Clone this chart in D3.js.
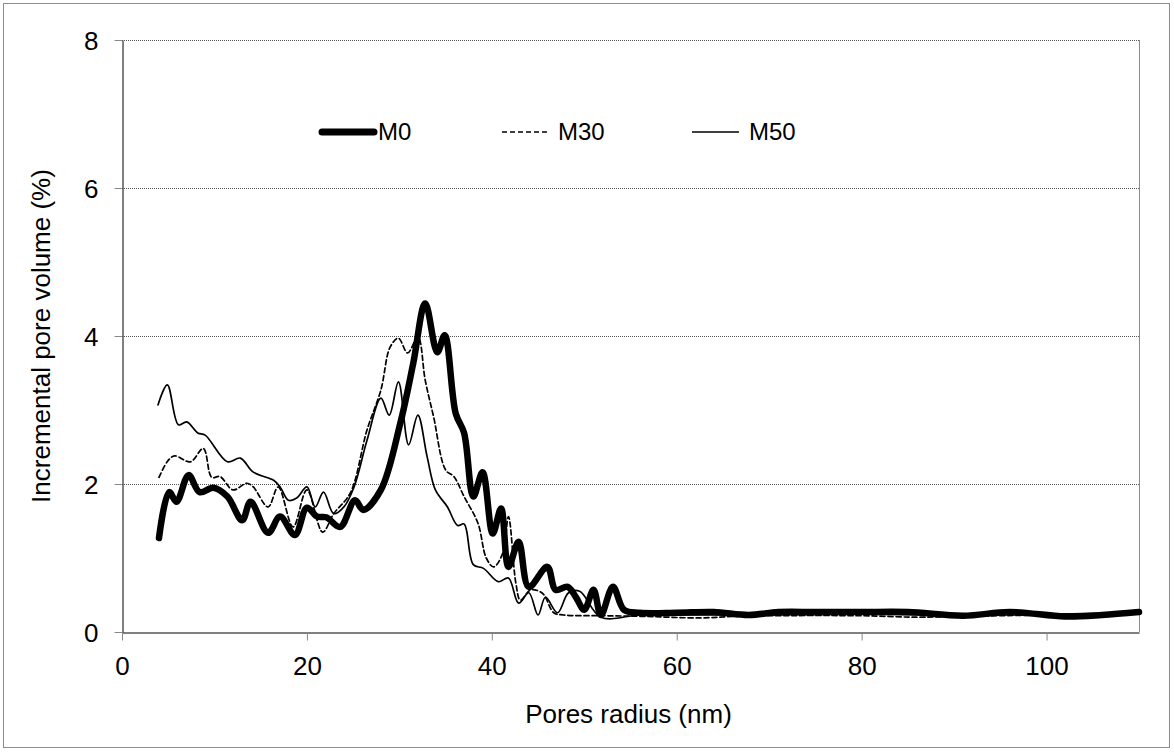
<!DOCTYPE html>
<html>
<head>
<meta charset="utf-8">
<script src="https://cdn.jsdelivr.net/npm/d3@7"></script>
<style>
  body { margin: 0; background: #fff; }
  svg { display: block; font-family: "Liberation Sans", Arial, sans-serif; }
</style>
</head>
<body>
<div id="chart"></div>
<script>
// pore radius (nm) and incremental pore volume (%) for each mix
var m0Radius = [4, 5.1, 5.9, 7.2, 8.4, 9.9, 11.4, 13, 13.9, 15.8, 17.1, 18.7, 20, 21.1, 22.1, 23.6, 25.2, 26.1, 28, 30.1, 31.5, 32.8, 34.1, 34.9, 36.1, 37, 38, 39, 40.1, 41, 41.8, 42.9, 44, 46, 46.9, 48.2, 49.1, 50, 51, 51.8, 53.1, 54.3, 56, 60, 64, 67.8, 71, 75, 80, 85, 91, 96, 102, 106, 110];
var m0Volume = [1.27, 1.89, 1.76, 2.12, 1.89, 1.95, 1.83, 1.51, 1.76, 1.34, 1.56, 1.31, 1.68, 1.56, 1.55, 1.42, 1.78, 1.65, 1.92, 2.82, 3.63, 4.44, 3.78, 4.01, 2.95, 2.69, 1.83, 2.16, 1.33, 1.67, 0.88, 1.22, 0.61, 0.88, 0.57, 0.61, 0.47, 0.3, 0.57, 0.23, 0.61, 0.3, 0.26, 0.26, 0.27, 0.23, 0.27, 0.27, 0.27, 0.27, 0.22, 0.27, 0.21, 0.23, 0.27];

var m30Radius = [4, 5, 5.7, 7.4, 8.8, 9.7, 10.6, 12, 13.5, 14.2, 15.8, 16.9, 18.5, 20, 21.7, 22.9, 24.7, 26.5, 28, 29, 29.9, 30.9, 32, 32.8, 33.7, 35, 35.9, 37, 38.5, 39.4, 40.2, 41.2, 41.8, 42.6, 43.1, 44.2, 45.5, 46.7, 47.8, 52, 56.7, 62.6, 66, 70, 80, 86, 90, 100, 110];
var m30Volume = [2.09, 2.32, 2.38, 2.3, 2.48, 2.09, 2.1, 1.92, 2.01, 1.96, 1.69, 1.96, 1.42, 1.92, 1.35, 1.6, 1.88, 2.73, 3.27, 3.85, 3.97, 3.77, 3.99, 3.4, 2.91, 2.19, 2.1, 1.83, 1.47, 1.0, 0.88, 1.07, 1.56, 0.66, 0.43, 0.57, 0.52, 0.26, 0.23, 0.22, 0.21, 0.19, 0.21, 0.22, 0.22, 0.2, 0.21, 0.23, 0.25];

var m50Radius = [3.9, 4.9, 6.1, 7, 8.2, 9, 11.4, 12.8, 14.2, 16.4, 17.1, 18, 18.9, 20, 20.9, 21.8, 22.9, 24, 25.1, 26.5, 28, 28.9, 29.9, 31, 32, 33, 33.9, 35.2, 36.3, 37, 38, 39.1, 40.7, 41.8, 42.9, 44, 45, 45.8, 47.1, 48.3, 49.5, 51.8, 56, 62, 70, 80, 90, 100, 110];
var m50Volume = [3.07, 3.34, 2.8, 2.84, 2.69, 2.66, 2.3, 2.35, 2.16, 2.05, 1.96, 1.78, 1.81, 1.96, 1.69, 1.89, 1.6, 1.69, 1.96, 2.59, 3.16, 2.93, 3.38, 2.53, 2.93, 2.37, 1.92, 1.69, 1.44, 1.46, 0.91, 0.86, 0.68, 0.73, 0.39, 0.53, 0.23, 0.47, 0.26, 0.53, 0.55, 0.2, 0.23, 0.23, 0.23, 0.24, 0.23, 0.24, 0.26];

var seriesNames = ["M0", "M30", "M50"];
var xTicks = [0, 20, 40, 60, 80, 100];
var yTicks = [0, 2, 4, 6, 8];

var width = 1174, height = 754;
var margin = { top: 40, right: 35, bottom: 122, left: 122 };

var svg = d3.select("#chart").append("svg")
	.attr("width", width)
	.attr("height", height);

// outer frame
svg.append("rect")
	.attr("x", 3.5).attr("y", 3.5)
	.attr("width", 1166).attr("height", 744)
	.attr("fill", "#fff")
	.attr("stroke", "#8c8c8c");

var x = d3.scaleLinear().domain([0, 110]).range([margin.left, width - margin.right]);
var y = d3.scaleLinear().domain([0, 8]).range([height - margin.bottom, margin.top]);

//gridlines
svg.append("g").selectAll("line")
	.data(yTicks.filter(function (d) { return d > 0; }))
	.enter().append("line")
	.attr("x1", x(0)).attr("x2", x(110))
	.attr("y1", function (d) { return y(d) + 0.5; })
	.attr("y2", function (d) { return y(d) + 0.5; })
	.attr("stroke", "#555")
	.attr("stroke-width", 1)
	.attr("stroke-dasharray", "1,1");

// right edge of plot area
svg.append("line")
	.attr("x1", x(110) + 0.5).attr("x2", x(110) + 0.5)
	.attr("y1", y(8)).attr("y2", y(0))
	.attr("stroke", "#8c8c8c");

//axes
var xAxis = d3.axisBottom(x).tickValues(xTicks).tickSize(8).tickSizeOuter(0);
var yAxis = d3.axisLeft(y).tickValues(yTicks).tickSize(8).tickSizeOuter(0);

var gx = svg.append("g")
	.attr("transform", "translate(0," + (y(0) + 0.5) + ")")
	.call(xAxis);
var gy = svg.append("g")
	.attr("transform", "translate(" + (x(0) + 0.5) + ",0)")
	.call(yAxis);

[gx, gy].forEach(function (g) {
	g.select(".domain").attr("stroke", "#000");
	g.selectAll(".tick line").attr("stroke", "#888");
	g.selectAll(".tick text")
		.attr("font-family", "Liberation Sans, Arial, sans-serif")
		.attr("font-size", "26px")
		.attr("fill", "#000");
});
gx.selectAll(".tick text").attr("dy", "0").attr("y", 42);
gy.selectAll(".tick text").attr("x", -24).attr("dy", "0.35em");

//axis titles
svg.append("text")
	.attr("x", x(55) - 2)
	.attr("y", 723)
	.attr("text-anchor", "middle")
	.attr("font-size", "26px")
	.text("Pores radius (nm)");

svg.append("text")
	.attr("transform", "translate(50," + y(4) + ") rotate(-90)")
	.attr("text-anchor", "middle")
	.attr("font-size", "26px")
	.text("Incremental pore volume (%)");

//lines
var line = d3.line()
	.x(function (d) { return x(d[0]); })
	.y(function (d) { return y(d[1]); })
	.curve(d3.curveCatmullRom.alpha(0.5));

var series = [
	{ name: "M50", rx: m50Radius, vy: m50Volume, w: 1.7, dash: null },
	{ name: "M30", rx: m30Radius, vy: m30Volume, w: 1.7, dash: "5,3" },
	{ name: "M0", rx: m0Radius, vy: m0Volume, w: 6.5, dash: null }
];

series.forEach(function (s) {
	var pts = s.rx.map(function (r, i) { return [r, s.vy[i]]; });
	svg.append("path")
		.datum(pts)
		.attr("d", line)
		.attr("fill", "none")
		.attr("stroke", "#000")
		.attr("stroke-width", s.w)
		.attr("stroke-linejoin", "round")
		.attr("stroke-linecap", "round")
		.attr("stroke-dasharray", s.dash);
});

//legend
var legendX = [322, 502, 692];
var legend = svg.append("g").selectAll("g")
	.data(seriesNames)
	.enter().append("g")
	.attr("transform", function (d, i) { return "translate(" + legendX[i] + ",132)"; });

legend.append("line")
	.attr("x1", 0).attr("x2", function (d, i) { return i == 0 ? 52 : 47; })
	.attr("y1", 0).attr("y2", 0)
	.attr("stroke", "#000")
	.attr("stroke-width", function (d, i) { return i == 0 ? 7 : 1.7; })
	.attr("stroke-linecap", function (d, i) { return i == 0 ? "round" : "butt"; })
	.attr("stroke-dasharray", function (d, i) { return i == 1 ? "5,3" : null; });

legend.append("text")
	.attr("x", function (d, i) { return i == 0 ? 56 : (i == 1 ? 56 : 57); })
	.attr("y", 0)
	.attr("dy", "0.35em")
	.attr("font-size", "24px")
	.text(function (d) { return d; });
</script>
</body>
</html>
